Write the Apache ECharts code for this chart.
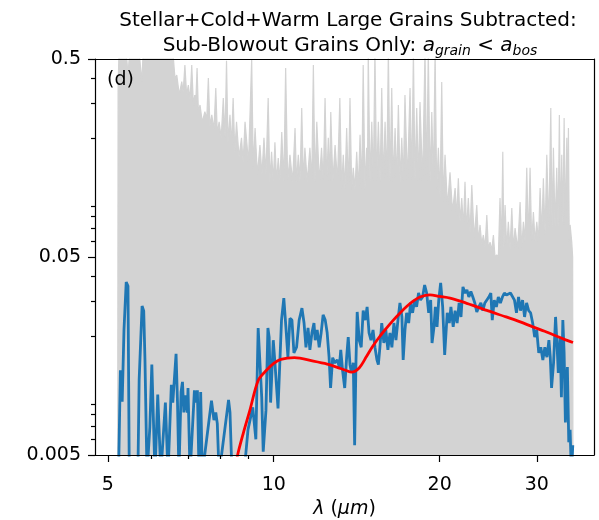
<!DOCTYPE html>
<html>
<head>
<meta charset="utf-8">
<script src="https://cdn.jsdelivr.net/npm/echarts@6/dist/echarts.min.js"></script>
<style>
  html, body { margin: 0; padding: 0; background: #fff; }
  #chart { width: 599px; height: 520px; }
</style>
</head>
<body>
<div id="chart"></div>
<script>
/*
 * 数据（波长 um，通量）
 */
var xTicks = [5, 10, 20, 30];
var xTickLabels = ['5', '10', '20', '30'];
var xMinorTicks = [6, 7, 8, 9];
var yTicks = [0.005, 0.05, 0.5];
var yTickLabels = ['0.005', '0.05', '0.5'];
var yMinorTicks = [0.006, 0.007, 0.008, 0.009, 0.02, 0.03, 0.04, 0.06, 0.07, 0.08, 0.09, 0.2, 0.3, 0.4];

// 灰色：各次实现的包络
var grayLam = [5.21,5.22,5.24,5.40,5.44,5.48,5.70,5.76,5.80,6.56,
  6.62,6.67,6.74,6.81,6.85,6.90,6.95,7.00,7.05,7.10,
  7.15,7.19,7.22,7.26,7.30,7.35,7.42,7.50,7.56,7.61,
  7.66,7.72,7.79,7.85,7.90,7.96,8.03,8.10,8.16,8.21,
  8.26,8.33,8.38,8.44,8.50,8.56,8.65,8.74,8.80,8.87,
  9.00,9.12,9.18,9.25,9.34,9.44,9.52,9.60,9.68,9.77,
  9.84,9.91,9.98,10.05,10.12,10.19,10.26,10.34,10.43,10.51,
  10.60,10.70,10.82,10.93,11.00,11.08,11.16,11.24,11.32,11.39,
  11.50,11.63,11.72,11.80,11.88,11.97,12.10,12.21,12.30,12.39,
  12.48,12.56,12.62,12.69,12.80,12.92,13.05,13.18,13.28,13.37,
  13.46,13.56,13.66,13.75,13.85,13.94,14.04,14.14,14.24,14.34,
  14.44,14.53,14.64,14.74,14.79,14.84,14.95,15.06,15.16,15.26,
  15.37,15.48,15.59,15.70,15.81,15.92,16.03,16.14,16.25,16.37,
  16.48,16.60,16.71,16.83,16.95,17.07,17.18,17.30,17.48,17.67,
  17.80,17.92,18.04,18.17,18.30,18.42,18.62,18.81,18.94,19.07,
  19.21,19.35,19.48,19.62,19.75,19.89,20.03,20.17,20.31,20.45,
  20.66,20.88,21.10,21.33,21.47,21.62,21.77,21.93,22.08,22.23,
  22.38,22.54,22.70,22.87,23.10,23.35,23.51,23.67,23.84,24.00,
  24.17,24.35,24.51,24.68,24.85,25.03,25.20,25.38,25.55,25.73,
  25.88,26.03,26.15,26.28,26.46,26.64,26.83,27.03,27.21,27.40,
  27.70,27.98,28.17,28.37,28.57,28.77,28.97,29.17,29.37,29.58,
  29.79,30.00,30.21,30.42,30.63,30.84,31.06,31.28,31.55,31.81,
  31.98,32.16,32.38,32.61,32.79,32.97,33.13,33.30,33.46,33.63,
  33.82,34.01,34.12,34.24,34.36,34.48,34.72,34.85,34.90];
var grayFlux = [0.003,0.36,0.55,0.55,0.415,0.55,0.55,0.384,0.55,0.55,
  0.40,0.415,0.33,0.384,0.34,0.466,0.33,0.369,0.31,0.466,
  0.29,0.329,0.30,0.45,0.27,0.293,0.24,0.271,0.25,0.401,
  0.23,0.261,0.22,0.357,0.21,0.241,0.20,0.318,0.20,0.49,
  0.19,0.261,0.18,0.318,0.17,0.241,0.16,0.2,0.15,0.241,
  0.15,0.5,0.14,0.224,0.13,0.184,0.13,0.2,0.13,0.318,
  0.12,0.17,0.12,0.19,0.12,0.158,0.12,0.214,0.12,0.45,
  0.12,0.164,0.12,0.224,0.12,0.164,0.12,0.283,0.12,0.178,
  0.12,0.178,0.12,0.466,0.12,0.241,0.12,0.178,0.12,0.318,
  0.12,0.2,0.12,0.27,0.12,0.184,0.12,0.318,0.11,0.164,
  0.11,0.224,0.11,0.318,0.11,0.141,0.11,0.17,0.11,0.207,
  0.11,0.466,0.11,0.178,0.12,0.55,0.12,0.241,0.12,0.55,
  0.12,0.241,0.12,0.357,0.12,0.241,0.12,0.55,0.12,0.357,
  0.12,0.224,0.12,0.293,0.12,0.2,0.12,0.329,0.12,0.357,
  0.12,0.55,0.12,0.283,0.12,0.303,0.12,0.55,0.12,0.55,
  0.12,0.27,0.12,0.55,0.11,0.178,0.10,0.383,0.095,0.164,
  0.09,0.134,0.085,0.1115,0.08,0.125,0.075,0.0993,0.07,0.12,
  0.068,0.0993,0.066,0.1156,0.062,0.0916,0.06,0.0726,0.058,0.0646,
  0.056,0.0815,0.055,0.0595,0.054,0.0646,0.05,0.0512,0.05,0.0993,
  0.055,0.17,0.055,0.0916,0.055,0.0752,0.055,0.0884,0.055,0.07,
  0.055,0.0948,0.055,0.0752,0.06,0.141,0.06,0.141,0.06,0.0844,
  0.06,0.0752,0.06,0.1115,0.065,0.125,0.065,0.164,0.07,0.283,
  0.07,0.178,0.07,0.141,0.07,0.261,0.07,0.164,0.07,0.252,
  0.07,0.2,0.08,0.224,0.06,0.0726,0.0595,0.05,0.003];

// 蓝色：观测谱
var blueLam = [5.23,5.27,5.31,5.35,5.40,5.44,5.47,5.67,5.70,5.77,
  5.81,5.84,5.89,5.96,6.01,6.09,6.16,6.24,6.36,6.43,
  6.52,6.56,6.65,6.69,6.73,6.79,6.83,6.87,6.91,6.97,
  6.99,7.05,7.18,7.24,7.27,7.32,7.37,7.42,7.71,7.79,
  7.85,7.90,7.96,8.28,8.33,8.40,8.83,8.98,9.16,9.28,
  9.37,9.44,9.51,9.57,9.68,9.76,9.81,9.87,9.98,10.05,
  10.18,10.33,10.43,10.52,10.61,10.70,10.79,10.88,11.00,11.12,
  11.25,11.35,11.44,11.54,11.63,11.73,11.83,11.89,11.99,12.09,
  12.19,12.29,12.40,12.50,12.60,12.68,12.79,12.91,13.04,13.15,
  13.23,13.33,13.45,13.56,13.65,13.75,13.84,13.94,14.02,14.10,
  14.17,14.29,14.41,14.53,14.65,14.77,14.89,15.01,15.14,15.26,
  15.39,15.48,15.58,15.70,15.84,15.97,16.11,16.25,16.38,16.52,
  16.66,16.80,16.94,17.08,17.17,17.30,17.42,17.57,17.71,17.86,
  18.01,18.16,18.31,18.46,18.62,18.78,18.94,19.10,19.26,19.37,
  19.53,19.64,19.78,19.92,20.08,20.25,20.42,20.64,20.82,20.96,
  21.16,21.33,21.51,21.69,21.86,22.04,22.23,22.41,22.59,22.78,
  22.97,23.16,23.35,23.55,23.75,23.95,24.15,24.35,24.56,24.76,
  24.91,25.12,25.34,25.55,25.77,25.99,26.20,26.43,26.65,26.88,
  27.10,27.33,27.56,27.80,28.03,28.27,28.51,28.75,29.00,29.24,
  29.49,29.74,29.99,30.25,30.51,30.77,31.03,31.30,31.56,31.74,
  31.91,32.18,32.45,32.64,32.82,33.07,33.25,33.45,33.63,33.81,
  34.09,34.29,34.48,34.67,34.87];
var blueFlux = [0.004,0.0134,0.0093,0.0214,0.0374,0.0357,0.004,0.004,0.012,0.0283,
  0.0267,0.0151,0.004,0.0069,0.0143,0.004,0.0101,0.004,0.0092,0.004,
  0.0113,0.0092,0.0162,0.0092,0.004,0.0104,0.0117,0.0082,0.0100,0.0082,
  0.0109,0.004,0.0106,0.0092,0.0106,0.004,0.0104,0.004,0.0094,0.0075,
  0.0082,0.0072,0.004,0.0095,0.0082,0.004,0.004,0.0067,0.0087,0.0060,
  0.0219,0.0214,0.0098,0.0052,0.0084,0.0219,0.0197,0.0092,0.0190,0.0146,
  0.0086,0.0240,0.0310,0.0222,0.0156,0.0245,0.0240,0.0164,0.0175,0.0240,
  0.0276,0.0232,0.0175,0.0219,0.0170,0.0207,0.0232,0.0190,0.0214,0.0175,
  0.0207,0.0255,0.0240,0.0207,0.0156,0.0109,0.0155,0.0146,0.0151,0.0139,
  0.0170,0.0134,0.0109,0.0156,0.0197,0.0143,0.0130,0.0146,0.0056,0.0151,
  0.0264,0.0190,0.0175,0.0268,0.0240,0.0280,0.0207,0.0190,0.0214,0.0175,
  0.0151,0.0143,0.0175,0.0232,0.0184,0.0214,0.0170,0.0207,0.0175,0.0232,
  0.0190,0.0240,0.0293,0.0249,0.0151,0.0214,0.0261,0.0232,0.0293,0.0261,
  0.0303,0.0280,0.0329,0.0303,0.0314,0.0361,0.0329,0.0261,0.0303,0.0184,
  0.0222,0.0280,0.0222,0.0303,0.0370,0.0280,0.0160,0.0261,0.0232,0.0280,
  0.0222,0.0268,0.0232,0.0293,0.0249,0.0353,0.0329,0.0341,0.0314,0.0335,
  0.0314,0.0293,0.0264,0.0280,0.0293,0.0268,0.0293,0.0297,0.0314,0.0329,
  0.0240,0.0303,0.0280,0.0314,0.0293,0.0314,0.0329,0.0321,0.0314,0.0329,
  0.0335,0.0303,0.0261,0.0314,0.0268,0.0303,0.0249,0.0293,0.0268,0.0261,
  0.0232,0.0197,0.0214,0.0164,0.0175,0.0151,0.0175,0.0156,0.0190,0.0156,
  0.0109,0.0146,0.0249,0.0184,0.0130,0.0197,0.0098,0.0240,0.0164,0.0073,
  0.0139,0.0058,0.0067,0.0040,0.0056];

// 红色：模型
var redLam = [8.40,8.60,8.80,9.05,9.37,9.70,10.0,10.3,10.9,11.8,12.5,13.0,13.5,13.84,14.3,14.73,15.1,15.58,16.0,16.48,16.95,17.42,17.9,18.42,19.2,20.0,20.88,22.0,22.97,24.5,26.4,28.0,29.5,31.0,32.2,33.5,34.9];
var redFlux = [0.0035,0.0050,0.0064,0.0084,0.0119,0.0134,0.0145,0.0152,0.0155,0.0149,0.0144,0.0139,0.0134,0.0131,0.0138,0.0157,0.0176,0.0199,0.0218,0.0240,0.0261,0.0281,0.0299,0.0314,0.0322,0.0316,0.0310,0.0297,0.0285,0.0267,0.0249,0.0235,0.0222,0.0211,0.0202,0.0193,0.0185];

var xMin = 4.74, xMax = 38.1;
var yMin = 0.005, yMax = 0.5;

var FONT = 'DejaVu Sans';
var lg = Math.log10;

// 对数坐标：把 (波长, 通量) 转成 log10
function toXY(lams, fluxes) {
  return lams.map(function (l, i) {
    return [lg(l), lg(fluxes[i])];
  });
}

function tickText(ticks, labels) {
  return function (v) {
    for (var i = 0; i < ticks.length; i++) {
      if (Math.abs(lg(ticks[i]) - v) < 1e-6) return labels[i];
    }
    return '';
  };
}

var black = { color: '#000', width: 1.2 };

var options = {
  animation: false,
  title: [{
    text: 'Stellar+Cold+Warm Large Grains Subtracted:',
    left: 348, top: 11, padding: 0, textAlign: 'center',
    textStyle: { fontFamily: FONT, fontSize: 20, fontWeight: 'normal', color: '#000' }
  }, {
    text: '{n|Sub-Blowout Grains Only: }{it|a}{sub|grain}{n| < }{it|a}{sub|bos}',
    left: 350, top: 36, padding: 0, textAlign: 'center',
    textStyle: {
      fontFamily: FONT, fontSize: 20, fontWeight: 'normal', color: '#000',
      rich: {
        n: { fontFamily: FONT, fontSize: 20, lineHeight: 20, verticalAlign: 'top', color: '#000' },
        it: { fontFamily: FONT, fontSize: 20, lineHeight: 20, fontStyle: 'italic', verticalAlign: 'top', color: '#000' },
        sub: { fontFamily: FONT, fontSize: 14, lineHeight: 14, fontStyle: 'italic', verticalAlign: 'top', padding: [8, 0, 0, 0], color: '#000' }
      }
    }
  }],
  grid: { left: 95, right: 5, top: 59, bottom: 65, containLabel: false, outerBoundsMode: 'none' },
  graphic: [{
    type: 'text', left: 107, top: 71, z: 100,
    style: { text: '(d)', font: '19px "DejaVu Sans"', fill: '#000' }
  }],
  xAxis: [{
    type: 'value', min: lg(xMin), max: lg(xMax), position: 'bottom', z: 10,
    axisLine: { show: true, onZero: false, lineStyle: black },
    axisTick: { show: true, customValues: xTicks.map(lg), length: 7, lineStyle: black },
    axisLabel: {
      customValues: xTicks.map(lg), formatter: tickText(xTicks, xTickLabels),
      margin: 21, fontFamily: FONT, fontSize: 19, color: '#000'
    },
    splitLine: { show: false },
    name: '{it|λ} ({it|μm})', nameLocation: 'middle', nameGap: 45,
    nameTextStyle: {
      fontFamily: FONT, fontSize: 19, color: '#000',
      rich: { it: { fontFamily: FONT, fontSize: 19, fontStyle: 'italic', color: '#000' } }
    }
  }, {
    type: 'value', min: lg(xMin), max: lg(xMax), position: 'bottom', z: 10,
    axisLine: { show: false, onZero: false },
    axisTick: { show: true, customValues: xMinorTicks.map(lg), length: 4, lineStyle: black },
    axisLabel: { show: false },
    splitLine: { show: false }
  }, {
    type: 'value', min: lg(xMin), max: lg(xMax), position: 'top', z: 10,
    axisLine: { show: true, onZero: false, lineStyle: black },
    axisTick: { show: false },
    axisLabel: { show: false },
    splitLine: { show: false }
  }],
  yAxis: [{
    type: 'value', min: lg(yMin), max: lg(yMax), position: 'left', z: 10,
    axisLine: { show: true, onZero: false, lineStyle: black },
    axisTick: { show: true, customValues: yTicks.map(lg), length: 7, lineStyle: black },
    axisLabel: {
      customValues: yTicks.map(lg), formatter: tickText(yTicks, yTickLabels),
      margin: 14, padding: [6, 0, 0, 0], fontFamily: FONT, fontSize: 19, color: '#000'
    },
    splitLine: { show: false }
  }, {
    type: 'value', min: lg(yMin), max: lg(yMax), position: 'left', z: 10,
    axisLine: { show: false, onZero: false },
    axisTick: { show: true, customValues: yMinorTicks.map(lg), length: 4, lineStyle: black },
    axisLabel: { show: false },
    splitLine: { show: false }
  }, {
    type: 'value', min: lg(yMin), max: lg(yMax), position: 'right', z: 10,
    axisLine: { show: true, onZero: false, lineStyle: black },
    axisTick: { show: false },
    axisLabel: { show: false },
    splitLine: { show: false }
  }],
  series: [{
    type: 'line', name: 'realizations', z: 1,
    data: toXY(grayLam, grayFlux),
    showSymbol: false, symbol: 'none',
    lineStyle: { color: '#d3d3d3', width: 1.2 },
    areaStyle: { color: '#d3d3d3', opacity: 1, origin: 'start' }
  }, {
    type: 'line', name: 'spectrum', z: 2,
    data: toXY(blueLam, blueFlux),
    showSymbol: false, symbol: 'none',
    lineStyle: { color: '#1f77b4', width: 2.8 }
  }, {
    type: 'line', name: 'model', z: 3,
    data: toXY(redLam, redFlux),
    showSymbol: false, symbol: 'none', smooth: 0.3,
    lineStyle: { color: '#ff0000', width: 2.8 }
  }]
};

// eslint-disable-next-line
var myChart = echarts.init(document.getElementById('chart'), null, { renderer: 'canvas' });
myChart.setOption(options);
</script>
</body>
</html>
